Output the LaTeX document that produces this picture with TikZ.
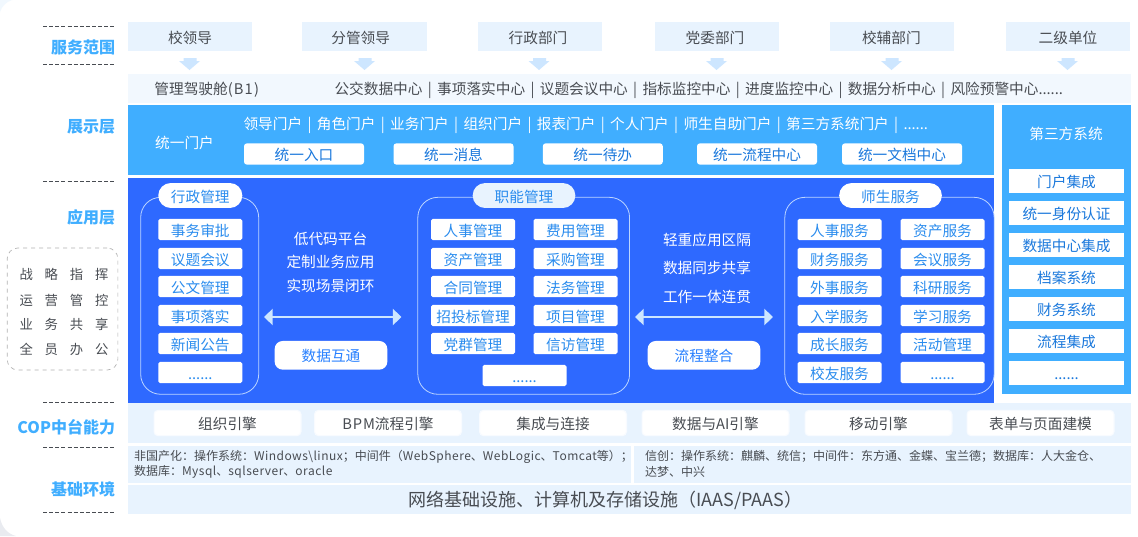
\documentclass[tikz,border=0pt]{standalone}
\usepackage{fontspec}
\setmainfont{Noto Sans CJK SC}
\usetikzlibrary{arrows.meta}
\definecolor{lightband}{HTML}{E8F3FE}
\definecolor{paleband}{HTML}{F2F8FE}
\definecolor{portalblue}{HTML}{40AEFF}
\definecolor{appblue}{HTML}{2E69FF}
\definecolor{itemtext}{HTML}{2A8CEE}
\definecolor{btntext}{HTML}{1A78DC}
\definecolor{darktext}{HTML}{484C52}
\definecolor{panelline}{HTML}{BCD6FF}
\definecolor{arrowlight}{HTML}{CDE6FF}
\definecolor{cornergray}{HTML}{E9EBF0}
\newcommand{\bsep}{\makebox[1em]{|}}
\newcommand{\lat}[2][4]{{\addfontfeature{LetterSpace=#1}#2}}
\newcommand{\fs}{\fontsize{11}{13}\selectfont}
\newcommand{\fsmall}{\fontsize{9}{11.5}\selectfont}
\newcommand{\fstrat}{\fontsize{10}{12}\selectfont\spaceskip=8.9pt\relax}
\begin{document}
\begin{tikzpicture}[x=0.75pt,y=-0.75pt,
  every node/.style={inner sep=0pt,outer sep=0pt},
  boxbase/.style={fill=#1,font=\fs,text height=11.9pt,text depth=2pt},
  topbox/.style={boxbase=lightband,minimum width=93.6pt,minimum height=21.5pt,text=darktext},
  portalbtn/.style={boxbase=white,rounded corners=2.2pt,minimum width=90pt,minimum height=16pt,text=btntext},
  itembox/.style={boxbase=white,rounded corners=1.2pt,minimum width=63pt,minimum height=15.8pt,text=itemtext},
  sidebox/.style={boxbase=white,minimum width=86.2pt,minimum height=18pt,text=btntext},
  pill/.style={boxbase=#1,rounded corners=9.3pt,minimum width=63pt,minimum height=18.7pt,text=itemtext},
  panel/.style={draw=panelline,line width=0.6pt,rounded corners=15pt,minimum height=147.7pt},
  bigbtn/.style={boxbase=white,rounded corners=6pt,minimum width=84.5pt,minimum height=21.5pt,text=appblue!85!cyan},
  copbox/.style={boxbase=white,draw=white!70!lightband,line width=0.8pt,rounded corners=3pt,minimum width=110.2pt,minimum height=19pt,text=darktext},
  layerlabel/.style={anchor=east,font=\bfseries\fontsize{12}{14}\selectfont,text=portalblue},
  whitetext/.style={font=\fs,text=white,text height=11.9pt,text depth=2pt},
  stratrow/.style={font=\fstrat,text=darktext},
  downarrow/.style={fill=arrowlight},
  twoway/.style={arrowlight,line width=1.6pt,{Triangle[length=6.5pt,width=12pt]}-{Triangle[length=6.5pt,width=12pt]}},
  cutline/.style={draw=darktext,line width=0.5pt,dash pattern=on 3pt off 1.6pt}]
\useasboundingbox (0,0) rectangle (1138,536);
\fill[white] (0,0) rectangle (1138,536);
\fill[cornergray] (0,536) -- (0,518) .. controls (2,528) and (8,534) .. (16,536) -- cycle;
\fill[lightband!60] (0,0) -- (0,12) .. controls (2,6) and (6,2) .. (12,0) -- cycle;
% dashed rules beside the layer names
\draw[cutline] (43,26) -- (115,26);
\draw[cutline] (43,64) -- (115,64);
\draw[cutline] (43,181.7) -- (115,181.7);
\draw[cutline] (43,402) -- (115,402);
\draw[cutline] (43,447.7) -- (115,447.7);
\draw[cutline] (43,512.7) -- (115,512.7);
\node[layerlabel] (lfw) at (115,47) {服务范围};
\node[layerlabel] (lzs) at (115,127) {展示层};
\node[layerlabel] (lyy) at (115,217) {应用层};
\node[layerlabel] (lcop) at (115,427) {COP中台能力};
\node[layerlabel] (ljc) at (115,489) {基础环境};
% strategy box
\node[draw=black!30,dashed,line width=0.5pt,rounded corners=8pt,minimum width=83pt,minimum height=91.5pt] (strat) at (62.5,309) {};
\node[stratrow] (s1) at (64,274) {战 略 指 挥};
\node[stratrow] (s2) at (64,300) {运 营 管 控};
\node[stratrow] (s3) at (64,324) {业 务 共 享};
\node[stratrow] (s4) at (64,349) {全 员 办 公};
% top row
\node[topbox] (t1) at (190,36.4) {校领导};
\node[topbox] (t2) at (364.7,36.4) {分管领导\kern6pt};
\node[topbox] (t3) at (540,36.4) {行政部门\kern3pt};
\node[topbox] (t4) at (717,36.4) {党委部门\kern3pt};
\node[topbox] (t5) at (892,36.4) {校辅部门\kern1pt};
\node[topbox] (t6) at (1068,36.4) {二级单位};
\fill[downarrow] (183.5,58) -- (196.5,58) -- (196.5,61) -- (200,61) -- (189.5,70) -- (179,61) -- (183.5,61) -- cycle;
\fill[downarrow] (358.5,58) -- (371.5,58) -- (371.5,61) -- (375,61) -- (364.5,70) -- (354,61) -- (358.5,61) -- cycle;
\fill[downarrow] (533,58) -- (546,58) -- (546,61) -- (549.5,61) -- (539,70) -- (528.5,61) -- (533,61) -- cycle;
\fill[downarrow] (710.5,58) -- (723.5,58) -- (723.5,61) -- (727,61) -- (716.5,70) -- (706,61) -- (710.5,61) -- cycle;
\fill[downarrow] (885.5,58) -- (898.5,58) -- (898.5,61) -- (902,61) -- (891.5,70) -- (881,61) -- (885.5,61) -- cycle;
\fill[downarrow] (1061.5,58) -- (1074.5,58) -- (1074.5,61) -- (1078,61) -- (1067.5,70) -- (1057,61) -- (1061.5,61) -- cycle;
% cockpit row
\fill[paleband] (128,74) rectangle (1131,103);
\node[font=\fs,text=darktext] (cockpit) at (206.7,90) {管理驾驶舱\lat[8]{(B1)}};
\node[font=\fs,text=darktext,anchor=west] (centers) at (334.5,90) {公交数据中心\bsep 事项落实中心\bsep 议题会议中心\bsep 指标监控中心\bsep 进度监控中心\bsep 数据分析中心\bsep 风险预警中心......};
% portal band
\fill[portalblue] (128,105) rectangle (994,175);
\node[whitetext] (portal) at (184.5,142) {统一门户};
\node[whitetext,anchor=west] (portals) at (243.5,123) {领导门户\bsep 角色门户\bsep 业务门户\bsep 组织门户\bsep 报表门户\bsep 个人门户\bsep 师生自助门户\bsep 第三方系统门户\bsep ......};
\node[portalbtn] (p1) at (304,154) {统一入口};
\node[portalbtn] (p2) at (453.5,154) {统一消息};
\node[portalbtn] (p3) at (602.8,154) {统一待办};
\node[portalbtn] (p4) at (757,154) {统一流程中心};
\node[portalbtn] (p5) at (902,154) {统一文档中心};
% third party column
\fill[portalblue] (1002,105) rectangle (1131,394);
\node[whitetext] (third) at (1066,133) {第三方系统};
\node[sidebox] (e1) at (1066.5,181) {门户集成};
\node[sidebox] (e2) at (1066.5,213) {统一身份认证};
\node[sidebox] (e3) at (1066.5,245) {数据中心集成};
\node[sidebox] (e4) at (1066.5,277) {档案系统};
\node[sidebox] (e5) at (1066.5,309) {财务系统};
\node[sidebox] (e6) at (1066.5,341) {流程集成};
\node[sidebox] (e7) at (1066.5,373) {......};
% application band
\fill[appblue] (128,178) rectangle (994,403);
\node[panel,minimum width=88.5pt] (pa) at (199.7,295.8) {};
\node[panel,minimum width=158.8pt] (pb) at (523.7,295.8) {};
\node[panel,minimum width=157pt] (pc) at (889.5,295.8) {};
\node[pill=white] (ha) at (200.3,195.5) {行政管理};
\node[pill=lightband,minimum width=77pt] (hb) at (524,195.5) {职能管理};
\node[pill=white,minimum width=77pt] (hc) at (890.5,195.5) {师生服务};
\node[itembox] (a1) at (200.3,229.5) {事务审批};
\node[itembox] (a2) at (200.3,258.5) {议题会议};
\node[itembox] (a3) at (200.3,286.5) {公文管理};
\node[itembox] (a4) at (200.3,315.5) {事项落实};
\node[itembox] (a5) at (200.3,343.5) {新闻公告};
\node[itembox] (a6) at (200.3,372.5) {......};
\node[itembox] (b1) at (473,229.5) {人事管理};
\node[itembox] (b2) at (473,258.5) {资产管理};
\node[itembox] (b3) at (473,286.5) {合同管理};
\node[itembox] (b4) at (473,315.5) {招投标管理};
\node[itembox] (b5) at (473,343.5) {党群管理};
\node[itembox] (b6) at (575.5,229.5) {费用管理};
\node[itembox] (b7) at (575.5,258.5) {采购管理};
\node[itembox] (b8) at (575.5,286.5) {法务管理};
\node[itembox] (b9) at (575.5,315.5) {项目管理};
\node[itembox] (b10) at (575.5,343.5) {信访管理};
\node[itembox] (b11) at (524.5,375.5) {......};
\node[itembox] (c1) at (839.5,229.5) {人事服务};
\node[itembox] (c2) at (839.5,258.5) {财务服务};
\node[itembox] (c3) at (839.5,286.5) {外事服务};
\node[itembox] (c4) at (839.5,315.5) {入学服务};
\node[itembox] (c5) at (839.5,343.5) {成长服务};
\node[itembox] (c6) at (839.5,372.5) {校友服务};
\node[itembox] (c7) at (942.5,229.5) {资产服务};
\node[itembox] (c8) at (942.5,258.5) {会议服务};
\node[itembox] (c9) at (942.5,286.5) {科研服务};
\node[itembox] (c10) at (942.5,315.5) {学习服务};
\node[itembox] (c11) at (942.5,343.5) {活动管理};
\node[itembox] (c12) at (942.5,372.5) {......};
\node[whitetext] (m1) at (330.5,238) {低代码平台};
\node[whitetext] (m2) at (330.5,261) {定制业务应用};
\node[whitetext] (m3) at (330.5,285) {实现场景闭环};
\node[whitetext] (n1) at (707,239) {轻重应用区隔};
\node[whitetext] (n2) at (707,267) {数据同步共享};
\node[whitetext] (n3) at (707,296) {工作一体连贯};
\coordinate (la) at (264,317);
\coordinate (lb) at (401.5,317);
\coordinate (ra) at (635,317);
\coordinate (rb) at (773,317);
\draw[twoway] (la) -- (lb);
\draw[twoway] (ra) -- (rb);
\node[bigbtn] (d1) at (331,355.3) {数据互通};
\node[bigbtn] (d2) at (704,355.3) {流程整合};
% cop band
\fill[lightband] (128,403) rectangle (1131,443);
\node[copbox] (k1) at (227.5,423) {组织引擎};
\node[copbox] (k2) at (388,423) {\lat[6]{BPM}流程引擎};
\node[copbox] (k3) at (553,423) {集成与连接};
\node[copbox] (k4) at (715.5,423) {数据与AI引擎};
\node[copbox] (k5) at (878.5,423) {移动引擎};
\node[copbox] (k6) at (1040.5,423) {表单与页面建模};
% base rows
\fill[lightband] (128,446) rectangle (631,483);
\fill[lightband] (634,446) rectangle (1131,483);
\fill[lightband] (128,485) rectangle (1131,513.7);
\node[font=\fsmall,text=darktext,anchor=west,align=left] (env1) at (134,464.5) {非国产化：操作系统：\lat{Windows\textbackslash linux}；中间件（\lat{WebSphere}、\lat{WebLogic}、\lat{Tomcat}等）；\\数据库：\lat{Mysql}、\lat{sqlserver}、\lat{oracle}};
\node[font=\fsmall,text=darktext,anchor=west,align=left] (env2) at (645,464) {信创：操作系统：麒麟、统信；中间件：东方通、金蝶、宝兰德；数据库：人大金仓、\\达梦、中兴};
\node[font=\fontsize{13.5}{16}\selectfont,text=darktext] (infra) at (605.5,500.5) {网络基础设施、计算机及存储设施（IAAS/PAAS）};
\end{tikzpicture}
\end{document}
